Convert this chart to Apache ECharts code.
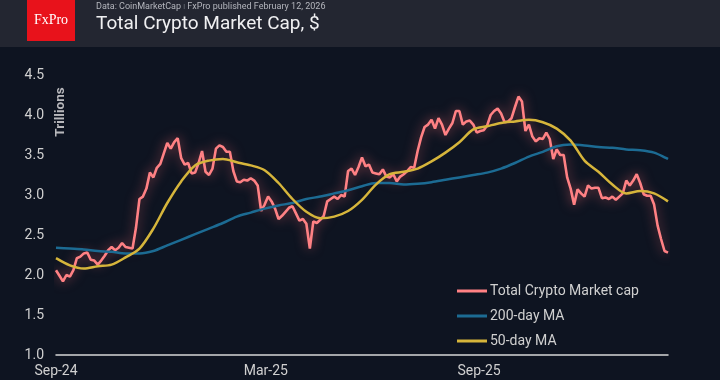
<!DOCTYPE html>
<html>
<head>
<meta charset="utf-8">
<script src="https://cdn.jsdelivr.net/npm/echarts@6/dist/echarts.min.js"></script>
<style>
html,body{margin:0;padding:0;background:#0e1421;}
#chart{width:720px;height:380px;}
</style>
</head>
<body>
<div id="chart"></div>
<script>
// ---- Data ----
// x values are days counted from Sep 1, 2024 (first observation)
const capStepDays = 3;           // one observation every 3 days
const capValues = [
  2.06,1.99,1.92,2.00,1.98,2.06,2.21,2.23,2.27,2.28,
  2.19,2.18,2.13,2.18,2.24,2.31,2.35,2.31,2.34,2.40,
  2.35,2.34,2.33,2.59,2.95,2.98,3.08,3.28,3.22,3.34,
  3.39,3.52,3.65,3.58,3.66,3.71,3.46,3.38,3.40,3.27,
  3.28,3.40,3.55,3.29,3.25,3.33,3.58,3.62,3.60,3.54,
  3.54,3.30,3.17,3.16,3.19,3.18,3.21,3.18,3.12,2.80,
  2.88,2.98,2.92,2.83,2.70,2.74,2.79,2.84,2.86,2.77,
  2.68,2.70,2.64,2.33,2.67,2.65,2.69,2.74,2.92,2.95,
  2.98,2.95,3.00,2.98,3.30,3.33,3.25,3.35,3.47,3.36,
  3.38,3.28,3.27,3.26,3.32,3.23,3.22,3.26,3.17,3.23,
  3.26,3.30,3.35,3.34,3.55,3.72,3.85,3.88,3.94,3.83,
  3.96,3.88,3.75,3.83,3.90,4.05,4.05,3.88,3.92,3.93,
  3.88,3.78,3.80,3.81,3.87,4.00,4.05,4.08,4.02,3.91,
  3.92,3.96,4.10,4.23,4.17,3.80,3.88,3.73,3.67,3.71,
  3.70,3.78,3.70,3.45,3.57,3.50,3.50,3.22,3.08,2.88,
  3.07,3.02,2.98,3.12,3.08,3.09,3.09,2.96,2.97,2.95,
  2.98,2.94,2.98,3.02,3.18,3.12,3.18,3.26,3.15,3.01,
  2.99,2.99,2.88,2.62,2.45,2.30,2.28
];
const maStepDays = 12;           // moving averages read every 12 days
const ma200Values = [
  2.34,2.33,2.32,2.30,2.29,2.27,2.27,2.30,2.37,2.44,
  2.51,2.58,2.65,2.73,2.78,2.83,2.87,2.90,2.95,2.98,
  3.02,3.06,3.11,3.15,3.15,3.13,3.14,3.16,3.19,3.22,
  3.25,3.28,3.33,3.40,3.48,3.54,3.61,3.63,3.62,3.60,
  3.59,3.57,3.56,3.53,3.45
];
const ma50Values = [
  2.21,2.12,2.08,2.11,2.13,2.22,2.33,2.58,2.90,3.17,
  3.37,3.43,3.45,3.41,3.37,3.31,3.15,2.95,2.79,2.71,
  2.73,2.80,2.94,3.13,3.26,3.29,3.33,3.42,3.53,3.66,
  3.82,3.86,3.90,3.92,3.94,3.91,3.83,3.68,3.43,3.29,
  3.13,3.02,3.05,3.02,2.92
];
const seriesNames = ['Total Crypto Market cap', '200-day MA', '50-day MA'];
const xTickDays = [0, 181, 365];          // Sep 1 2024, Mar 1 2025, Sep 1 2025
const xTickLabels = ['Sep-24', 'Mar-25', 'Sep-25'];

// ---- Build ----
const capData = capValues.map((v, i) => [i * capStepDays, v]);
const ma200Data = ma200Values.map((v, i) => [i * maStepDays, v]);
const ma50Data = ma50Values.map((v, i) => [i * maStepDays, v]);

const chart = echarts.init(document.getElementById('chart'), null, {renderer: 'canvas'});
const FONT = 'Roboto, "Noto Sans", sans-serif';

chart.setOption({
  backgroundColor: '#0e1421',
  animation: false,
  grid: {left: 56, right: 52, top: 75, bottom: 25, containLabel: false},
  xAxis: {
    type: 'value',
    min: 0,
    max: capData[capData.length - 1][0],
    axisLine: {show: true, onZero: false, lineStyle: {color: '#d6d6d6', width: 1.5}},
    axisTick: {show: false},
    splitLine: {show: false},
    axisLabel: {
      customValues: xTickDays,
      hideOverlap: false,
      color: '#d0d0d0',
      fontFamily: FONT,
      fontSize: 14,
      margin: 9,
      formatter: function (val) {
        const idx = xTickDays.indexOf(val);
        return idx >= 0 ? xTickLabels[idx] : '';
      }
    }
  },
  yAxis: {
    type: 'value',
    min: 1.0,
    max: 4.5,
    interval: 0.5,
    axisLine: {show: false},
    axisTick: {show: false},
    splitLine: {show: false},
    axisLabel: {
      color: '#d0d0d0',
      fontFamily: FONT,
      fontSize: 14,
      margin: 12,
      formatter: function (v) { return v.toFixed(1); }
    }
  },
  legend: {
    orient: 'vertical',
    left: 457,
    top: 284,
    padding: 0,
    itemWidth: 30,
    itemHeight: 3,
    itemGap: 11,
    icon: 'rect',
    textStyle: {color: '#d0d0d0', fontFamily: FONT, fontSize: 14, padding: [0, 0, 0, -2]},
    data: seriesNames
  },
  series: [
    {
      name: seriesNames[0],
      type: 'line',
      data: capData,
      showSymbol: false,
      color: '#ff8184',
      lineStyle: {color: '#ff8184', width: 2.6, shadowColor: 'rgba(255,110,115,0.6)', shadowBlur: 12},
      z: 2
    },
    {
      name: seriesNames[1],
      type: 'line',
      data: ma200Data,
      showSymbol: false,
      smooth: 0.3,
      color: '#1c6b93',
      lineStyle: {color: '#1c6b93', width: 2.5},
      z: 3
    },
    {
      name: seriesNames[2],
      type: 'line',
      data: ma50Data,
      showSymbol: false,
      smooth: 0.3,
      color: '#d6b53b',
      lineStyle: {color: '#d6b53b', width: 2.5},
      z: 4
    }
  ],
  graphic: [
    {type: 'rect', left: 0, top: 0, shape: {width: 720, height: 47}, style: {fill: '#232631'}, silent: true},
    {type: 'rect', left: 27, top: 0, shape: {width: 48, height: 41}, style: {fill: '#e8121b'}, silent: true},
    {type: 'text', x: 51, y: 20, style: {text: 'FxPro', fill: '#ffffff', font: '14px "Liberation Serif", "DejaVu Serif", serif', align: 'center', verticalAlign: 'middle'}, silent: true},
    {type: 'text', x: 96, y: 7, style: {
      text: 'Data: CoinMarketCap {s|ǀ} FxPro published February 12, 2026',
      fill: '#b4b6bd', font: '9px Roboto, sans-serif', verticalAlign: 'middle',
      rich: {s: {fill: '#777a83', fontSize: 7}}
    }, silent: true},
    {type: 'text', x: 96, y: 24, style: {text: 'Total Crypto Market Cap, $', fill: '#f0f0f2', font: '19px Roboto, sans-serif', verticalAlign: 'middle'}, silent: true},
    {type: 'text', x: 61, y: 112, rotation: Math.PI / 2, style: {text: 'Trillions', fill: '#b8b8bc', font: 'bold 13.5px Roboto, sans-serif', align: 'center', verticalAlign: 'middle'}, silent: true}
  ]
});
</script>
</body>
</html>
